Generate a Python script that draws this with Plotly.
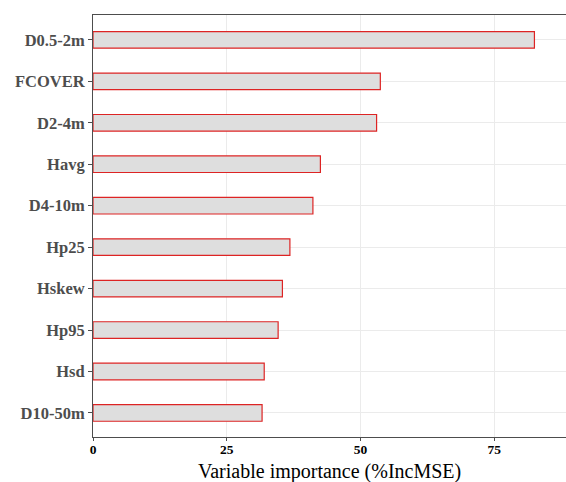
import plotly.graph_objects as go

# Random forest variable importance, listed bottom to top
variables = ["D10-50m", "Hsd", "Hp95", "Hskew", "Hp25",
             "D4-10m", "Havg", "D2-4m", "FCOVER", "D0.5-2m"]
inc_mse = [31.6, 32.0, 34.6, 35.4, 36.8, 41.1, 42.5, 53.0, 53.7, 82.5]

SERIF = "Liberation Serif, Times New Roman, serif"

fig = go.Figure(
    go.Bar(
        x=inc_mse,
        y=variables,
        orientation="h",
        width=0.4,
        marker=dict(color="#dedede", line=dict(color="#dd2424", width=1.2)),
    )
)

fig.update_layout(
    width=566,
    height=482,
    margin=dict(l=93, r=0, t=15, b=45),
    paper_bgcolor="white",
    plot_bgcolor="white",
    showlegend=False,
    font=dict(family=SERIF, color="black"),
    annotations=[
        dict(
            text="Variable importance (%IncMSE)",
            xref="paper", yref="paper", x=0.5, y=0,
            xanchor="center", yanchor="top", yshift=-21,
            showarrow=False,
            font=dict(family=SERIF, size=20, color="black"),
        )
    ],
)

fig.update_xaxes(
    range=[0, 88.4],
    tickvals=[0, 25, 50, 75],
    ticktext=["<b>0</b>", "<b>25</b>", "<b>50</b>", "<b>75</b>"],
    tickfont=dict(family=SERIF, size=13.5, color="black"),
    ticks="outside",
    ticklen=3,
    ticklabelstandoff=-3,
    tickcolor="#4d4d4d",
    showline=True,
    linecolor="#4d4d4d",
    linewidth=1,
    mirror=True,
    showgrid=True,
    gridcolor="#ebebeb",
    gridwidth=1,
    zeroline=False,
)

fig.update_yaxes(
    range=[-0.58, 9.6],
    tickvals=variables,
    ticktext=[f"<b>{v}</b>" for v in variables],
    tickfont=dict(family=SERIF, size=16.5, color="#4d4d4d"),
    ticks="outside",
    ticklen=4,
    tickcolor="#4d4d4d",
    showline=True,
    linecolor="#4d4d4d",
    linewidth=1,
    showgrid=True,
    gridcolor="#ebebeb",
    gridwidth=1,
    zeroline=False,
)

fig.write_html("out.html")
